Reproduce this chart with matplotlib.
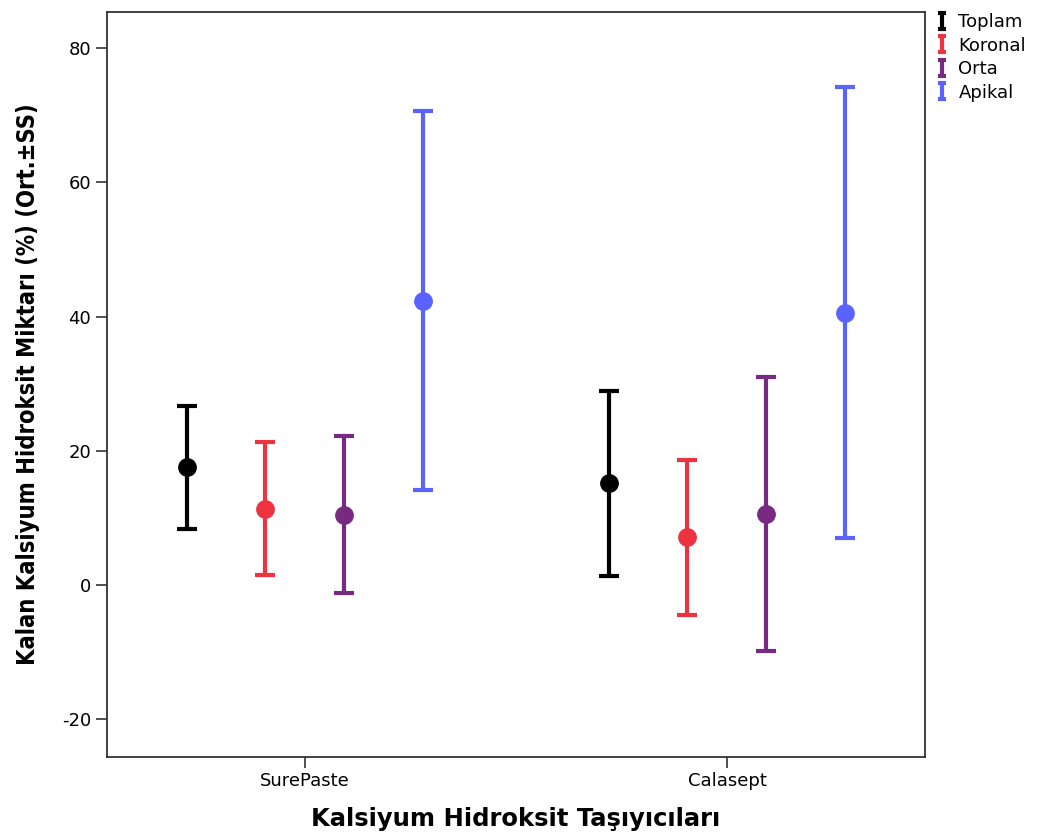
import numpy as np
import matplotlib.pyplot as plt
from matplotlib.ticker import FixedLocator
from matplotlib.lines import Line2D
from matplotlib.path import Path

# Kalan kalsiyum hidroksit miktari, ortalama +- SS
gruplar = ['SurePaste', 'Calasept']
seriler = ['Toplam', 'Koronal', 'Orta', 'Apikal']
renkler = ['#000000', '#ee3340', '#782a82', '#5a63ff']

ortalama = {
    'Toplam':  [17.6, 15.2],
    'Koronal': [11.3, 7.2],
    'Orta':    [10.4, 10.6],
    'Apikal':  [42.3, 40.5],
}
ust = {
    'Toplam':  [26.7, 29.0],
    'Koronal': [21.3, 18.6],
    'Orta':    [22.2, 31.0],
    'Apikal':  [70.6, 74.2],
}
alt = {
    'Toplam':  [8.3, 1.3],
    'Koronal': [1.5, -4.5],
    'Orta':    [-1.2, -9.8],
    'Apikal':  [14.2, 7.0],
}

plt.rcParams['font.family'] = ['DejaVu Sans']
plt.rcParams['axes.unicode_minus'] = False

fig = plt.figure(figsize=(10.38, 8.39), dpi=100)
ax = fig.add_axes([0.1031, 0.0977, 0.788, 0.888])

ofs = [-0.28, -0.094, 0.093, 0.279]
x0 = np.arange(len(gruplar))
for s, c, o in zip(seriler, renkler, ofs):
    m = np.array(ortalama[s])
    lo = m - np.array(alt[s])
    hi = np.array(ust[s]) - m
    ax.errorbar(x0 + o, m, yerr=[lo, hi], fmt='o', color=c, ecolor=c,
                markersize=12.5, elinewidth=3, capsize=7, capthick=3)

ax.set_xlim(-0.469, 1.469)
ax.set_ylim(-25.6, 85.4)
ax.set_xticks(x0)
ax.set_xticklabels(gruplar, fontsize=13)
ax.yaxis.set_major_locator(FixedLocator([-20, 0, 20, 40, 60, 80]))
ax.tick_params(axis='both', length=8, width=1.2, labelsize=13, direction='out',
               color='#333333')
ax.tick_params(axis='x', pad=3)
for sp in ax.spines.values():
    sp.set_linewidth(1.3)
    sp.set_color('#333333')

ax.set_xlabel('Kalsiyum Hidroksit Taşıyıcıları', fontsize=17.5, fontweight='bold', labelpad=12)
ax.set_ylabel('Kalan Kalsiyum Hidroksit Miktarı (%) (Ort.±SS)', fontsize=17,
              fontweight='bold', fontstretch='condensed',
              family=['Liberation Sans Narrow', 'DejaVu Sans'], labelpad=16)

# legend handles shaped like a small "I"
ikon = Path([(-0.5, 1), (0.5, 1), (0, 1), (0, -1), (-0.5, -1), (0.5, -1)],
            [Path.MOVETO, Path.LINETO, Path.MOVETO, Path.LINETO, Path.MOVETO, Path.LINETO])
handles = [Line2D([], [], linestyle='none', marker=ikon, markersize=11,
                  markeredgewidth=3, color=c, markerfacecolor='none')
           for c in renkler]
fig.legend(handles=handles, labels=seriler, loc='upper left',
           bbox_to_anchor=(0.892, 0.997), frameon=False, fontsize=13,
           handlelength=0.6, handletextpad=0.6, labelspacing=0.3,
           borderaxespad=0.2)

fig.savefig('out.png', dpi=100)
